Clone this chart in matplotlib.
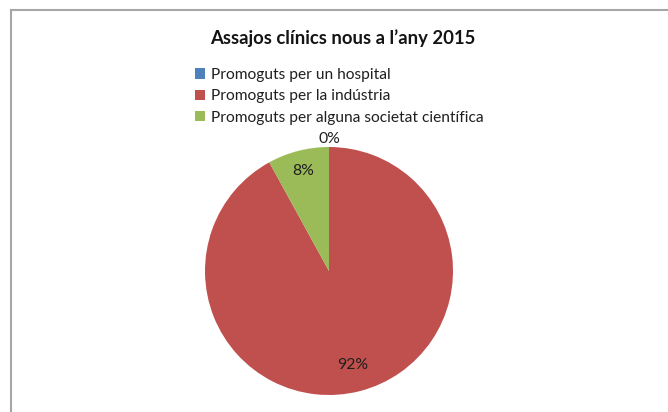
import matplotlib
matplotlib.use("Agg")
import matplotlib.pyplot as plt
import numpy as np
from matplotlib.lines import Line2D

plt.rcParams['font.family'] = ['Lato', 'DejaVu Sans']

title = "Assajos clínics nous a l\u2019any 2015"
categories = ["Promoguts per un hospital",
              "Promoguts per la indústria",
              "Promoguts per alguna societat científica"]
values = [0, 92, 8]
pct_labels = ["0%", "92%", "8%"]
colors = ["#4F81BD", "#C0504D", "#9BBB59"]
label_radius = [1.065, 0.78, 0.83]

W, H = 668, 412
fig = plt.figure(figsize=(W / 100, H / 100), dpi=100)
fig.patch.set_facecolor("white")

cx, cy, r = 329, 271, 124
ax = fig.add_axes([(cx - r) / W, (H - cy - r) / H, 2 * r / W, 2 * r / H])
wedges, _ = ax.pie(values, colors=colors, startangle=90, counterclock=False,
                   radius=1, wedgeprops=dict(linewidth=0))
ax.set_xlim(-1, 1)
ax.set_ylim(-1, 1)
ax.set_aspect("equal")
ax.axis("off")

for w, lab, rr in zip(wedges, pct_labels, label_radius):
    ang = np.deg2rad((w.theta1 + w.theta2) / 2)
    ax.text(rr * np.cos(ang), rr * np.sin(ang), lab, ha="center", va="center",
            fontsize=11.3, color="#1f1f1f", clip_on=False)

fig.text(343 / W, 1 - 38 / H, title, ha="center", va="center",
         fontsize=13.3, fontweight="bold", color="#141414")

fig.legend(wedges, categories, loc="upper left",
           bbox_to_anchor=(195 / W, 1 - 68 / H), frameon=False,
           fontsize=11.2, handlelength=0.65, handleheight=0.65,
           handletextpad=0.35, labelspacing=0.47, borderpad=0, borderaxespad=0,
           labelcolor="#1f1f1f")

# chart frame
fig.add_artist(Line2D([10.5 / W, 1], [1 - 9.5 / H, 1 - 9.5 / H],
                      transform=fig.transFigure, color="#A6A6A6", lw=1.5))
fig.add_artist(Line2D([10.5 / W, 10.5 / W], [0, 1 - 9.5 / H],
                      transform=fig.transFigure, color="#A6A6A6", lw=1.5))

fig.savefig("out.png", dpi=100, facecolor="white")
